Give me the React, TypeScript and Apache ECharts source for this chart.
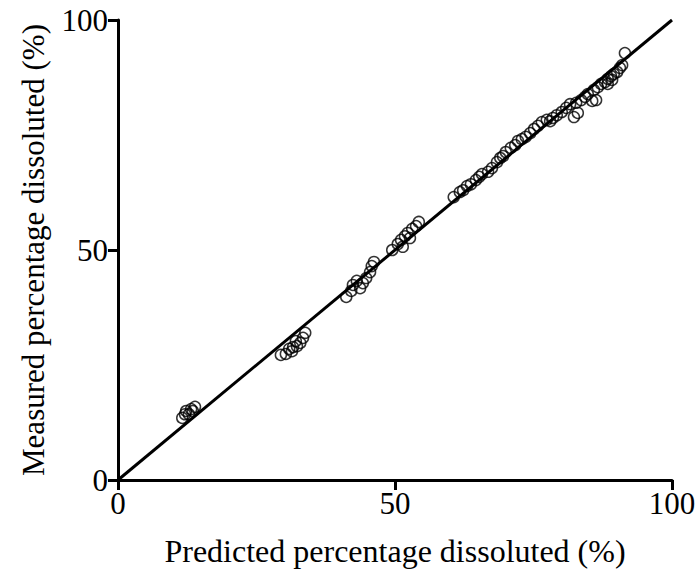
import React, { useEffect, useRef } from "react";
import * as echarts from "echarts";

const xTicks = [0, 50, 100];
const yTicks = [0, 50, 100];

const predicted = [
  11.6, 12.3, 12.8, 13.2, 13.9, 12.1, 13.5,
  29.4, 30.3, 30.9, 31.6, 32.3, 32.9, 33.4, 33.8, 32.1, 31.4,
  41.2, 42.1, 42.4, 43.1, 43.7, 44.2, 44.8, 45.5, 45.8, 46.2,
  49.5, 50.5, 51.1, 51.8, 52.3, 53.1, 53.8, 54.3, 51.4, 52.7,
  60.6, 61.7, 62.3, 63.0, 63.7, 64.6, 65.2, 65.7, 66.8, 67.5, 68.4, 69.0, 69.5, 70.0,
  70.9, 71.7, 72.2, 72.9, 73.6, 74.4, 75.1, 75.8, 76.5, 77.4, 78.0, 78.5, 79.2, 80.1,
  80.9, 81.6, 82.3, 83.0, 82.7, 83.6, 84.3, 84.8, 85.6, 86.3, 85.9, 86.6, 87.2, 87.9,
  88.4, 89.0, 89.5, 90.1, 90.6, 91.0, 91.5, 88.4, 89.2,
];

const measured = [
  13.5, 15.0, 14.3, 15.4, 15.9, 14.3, 15.0,
  27.2, 27.4, 28.5, 28.9, 29.1, 29.8, 30.9, 32.0, 30.2, 28.0,
  39.8, 41.1, 42.4, 43.3, 41.7, 42.8, 43.9, 45.2, 46.5, 47.4,
  50.0, 51.3, 52.2, 53.0, 53.7, 54.6, 55.2, 56.1, 50.7, 52.6,
  61.5, 62.6, 63.0, 63.9, 64.3, 65.2, 65.9, 66.5, 67.0, 67.8, 69.1, 70.0, 70.4, 71.3,
  72.2, 72.8, 73.7, 74.1, 74.6, 75.4, 76.3, 77.0, 77.8, 78.3, 78.0, 78.7, 79.3, 80.0,
  80.9, 81.7, 78.9, 79.8, 82.0, 82.6, 83.3, 83.9, 82.4, 82.6, 84.8, 85.4, 86.1, 86.5,
  87.2, 87.8, 88.3, 88.7, 89.6, 90.2, 92.8, 86.1, 87.0,
];

const identityLine = [
  [0, 0],
  [100, 100],
];

const FONT = "'Liberation Serif', 'DejaVu Serif', serif";

export default function App() {
  const ref = useRef<HTMLDivElement>(null);

  useEffect(() => {
    if (!ref.current) return;
    document.body.style.margin = "0";
    document.body.style.overflow = "hidden";
    document.documentElement.style.overflow = "hidden";
    const chart = echarts.init(ref.current, null, { renderer: "svg" });
    const points = predicted.map((p, i) => [p, measured[i]]);
    chart.setOption({
      animation: false,
      backgroundColor: "#ffffff",
      grid: { left: 118, right: 28, top: 20, bottom: 95 },
      xAxis: {
        type: "value",
        min: xTicks[0],
        max: xTicks[xTicks.length - 1],
        interval: 50,
        name: "Predicted percentage dissoluted (%)",
        nameLocation: "middle",
        nameGap: 55,
        nameTextStyle: { fontFamily: FONT, fontSize: 32, color: "#000" },
        axisLine: { show: true, onZero: false, lineStyle: { color: "#000", width: 3 } },
        axisTick: { show: true, inside: false, length: 10, lineStyle: { color: "#000", width: 3 } },
        axisLabel: { fontFamily: FONT, fontSize: 31, color: "#000", margin: 8 },
        splitLine: { show: false },
      },
      yAxis: {
        type: "value",
        min: yTicks[0],
        max: yTicks[yTicks.length - 1],
        interval: 50,
        name: "Measured percentage dissoluted (%)",
        nameLocation: "middle",
        nameGap: 69,
        nameTextStyle: { fontFamily: FONT, fontSize: 31, color: "#000" },
        axisLine: { show: true, onZero: false, lineStyle: { color: "#000", width: 3 } },
        axisTick: { show: true, inside: false, length: 10, lineStyle: { color: "#000", width: 3 } },
        axisLabel: { fontFamily: FONT, fontSize: 31, color: "#000", margin: 10 },
        splitLine: { show: false },
      },
      series: [
        {
          type: "line",
          data: identityLine,
          symbol: "none",
          lineStyle: { color: "#000", width: 3 },
          z: 1,
        },
        {
          type: "scatter",
          data: points,
          symbol: "circle",
          symbolSize: 11,
          itemStyle: { color: "rgba(255,255,255,0)", borderColor: "#000", borderWidth: 1.5 },
          z: 2,
        },
      ],
    });
    return () => chart.dispose();
  }, []);

  return <div ref={ref} style={{ width: 700, height: 575 }} />;
}
